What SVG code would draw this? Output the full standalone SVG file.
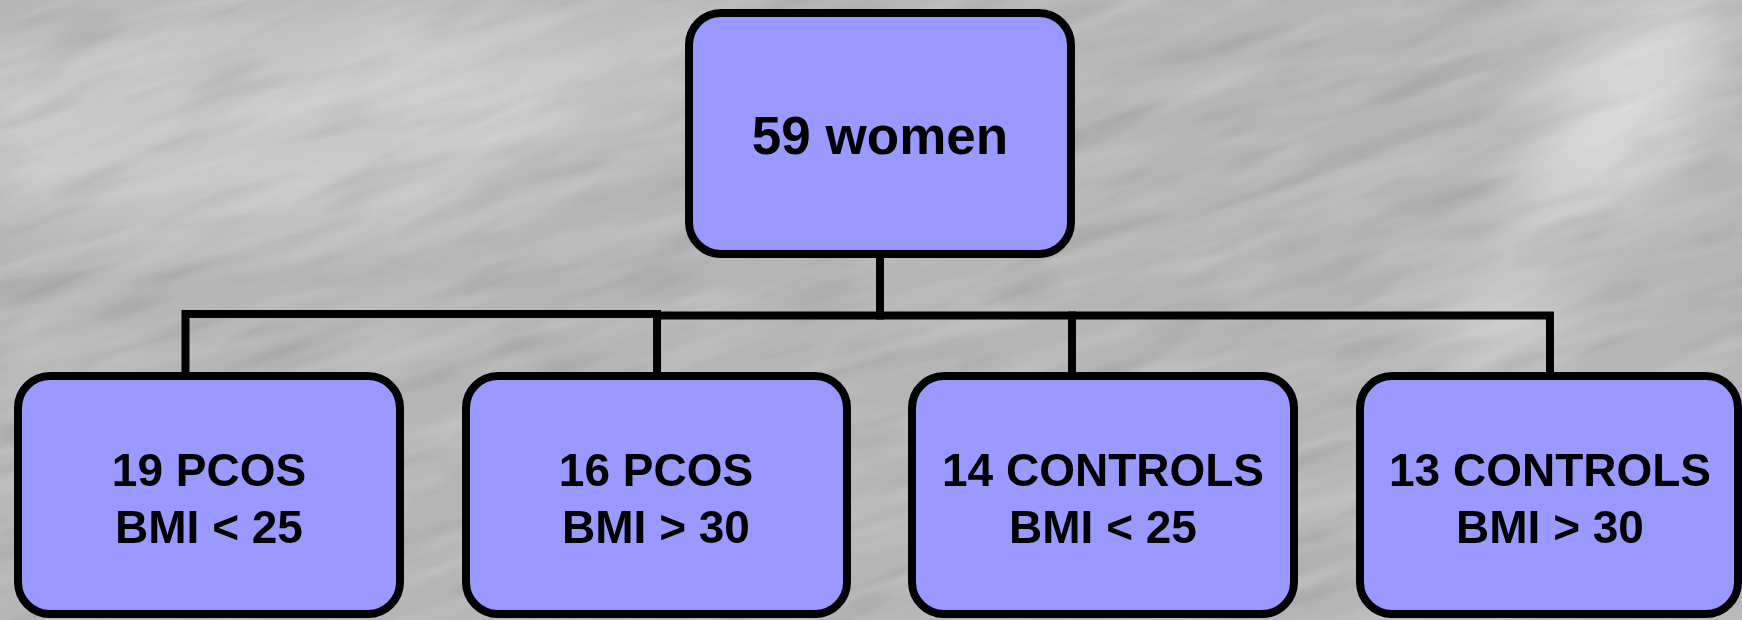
<svg xmlns="http://www.w3.org/2000/svg" width="1742" height="620" viewBox="0 0 1742 620">
<style>
.box{fill:#9999ff;stroke:#000;stroke-width:8}
.lbl{font-family:"Liberation Sans",Arial,sans-serif;font-weight:bold;fill:#000;text-anchor:middle}
.conn{fill:none;stroke:#000;stroke-width:8;stroke-linecap:square}
</style>
<defs>
<filter id="tex" x="0" y="0" width="100%" height="100%">
<feTurbulence type="fractalNoise" baseFrequency="0.006 0.035" numOctaves="3" seed="7" result="n"/>
<feColorMatrix in="n" type="matrix" values="0 0 0 0 1  0 0 0 0 1  0 0 0 0 1  1.1 0 0 0 -0.42"/>
</filter>
<filter id="tex2" x="0" y="0" width="100%" height="100%">
<feTurbulence type="fractalNoise" baseFrequency="0.008 0.04" numOctaves="2" seed="3" result="n"/>
<feColorMatrix in="n" type="matrix" values="0 0 0 0 0  0 0 0 0 0  0 0 0 0 0  1.0 0 0 0 -0.5"/>
</filter>
<filter id="blur"><feGaussianBlur stdDeviation="40"/></filter>
</defs>
<g id="background">
<rect width="1742" height="620" fill="#b5b5b5"/>
<g filter="url(#blur)" fill="#ffffff">
<ellipse cx="250" cy="130" rx="320" ry="110" opacity="0.25"/>
<ellipse cx="1620" cy="110" rx="150" ry="55" opacity="0.55" transform="rotate(-55 1620 110)"/>
<ellipse cx="1510" cy="330" rx="90" ry="35" opacity="0.4" transform="rotate(-60 1510 330)"/>
<ellipse cx="560" cy="60" rx="250" ry="50" opacity="0.2"/>
</g>
<g transform="rotate(-18 871 310)">
<rect x="-300" y="-400" width="2400" height="1400" filter="url(#tex)" opacity="0.35"/>
<rect x="-300" y="-400" width="2400" height="1400" filter="url(#tex2)" opacity="0.2"/>
</g>
</g>
<g id="connectors">
<path class="conn" d="M880,258 V315.5"/>
<path class="conn" d="M657,315.5 H1550 V372"/>
<path class="conn" d="M1072,315.5 V372"/>
<path class="conn" d="M185.5,372 V314 H657 V372"/>
</g>
<g id="n0">
<rect class="box" x="689" y="13" width="382" height="241" rx="32"/>
<text class="lbl" x="880" y="154" font-size="53">59 women</text>
</g>
<g id="n1">
<rect class="box" x="18" y="376" width="382" height="238" rx="32"/>
<text class="lbl" x="209" y="486" font-size="46">19 PCOS</text>
<text class="lbl" x="209" y="543" font-size="46">BMI &lt; 25</text>
</g>
<g id="n2">
<rect class="box" x="466" y="376" width="381" height="238" rx="32"/>
<text class="lbl" x="656" y="486" font-size="46">16 PCOS</text>
<text class="lbl" x="656" y="543" font-size="46">BMI &gt; 30</text>
</g>
<g id="n3">
<rect class="box" x="912" y="376" width="382" height="238" rx="32"/>
<text class="lbl" x="1103" y="486" font-size="46">14 CONTROLS</text>
<text class="lbl" x="1103" y="543" font-size="46">BMI &lt; 25</text>
</g>
<g id="n4">
<rect class="box" x="1360" y="376" width="378" height="238" rx="32"/>
<text class="lbl" x="1550" y="486" font-size="46">13 CONTROLS</text>
<text class="lbl" x="1550" y="543" font-size="46">BMI &gt; 30</text>
</g>
</svg>
